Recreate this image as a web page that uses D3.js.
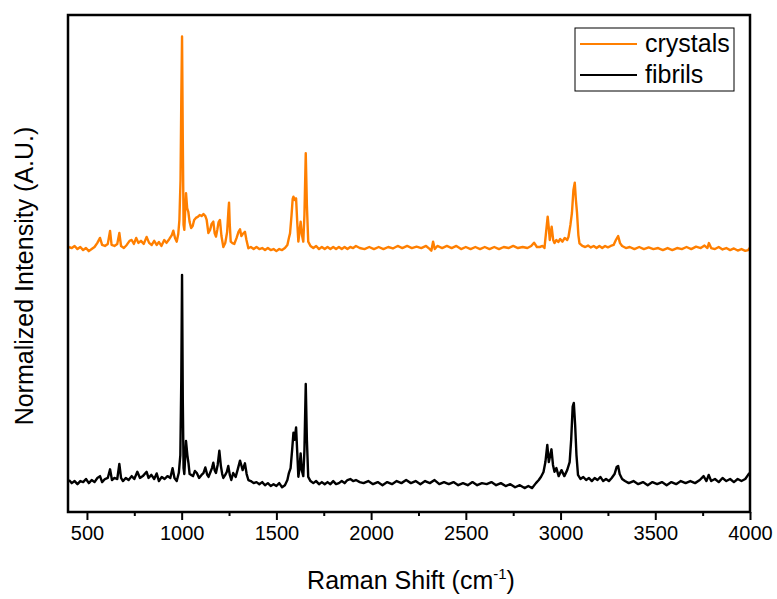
<!DOCTYPE html>
<html>
<head>
<meta charset="utf-8">
<script src="https://cdn.jsdelivr.net/npm/d3@7"></script>
<style>
  body { margin: 0; background: #fff; }
  svg text { font-family: "Liberation Sans", Arial, sans-serif; fill: #000; }
</style>
</head>
<body>
<div id="chart"></div>
<script>
// x positions (cm-1) and normalized intensities
const fibrilShift = [405,420,435,450,465,480,495,510,525,540,555,569,580,595,610,622,632,645,660,671,680,690,705,720,736,750,766,780,795,815,825,840,855,868,880,895,910,925,940,952,962,974,985,993,998,1002,1006,1010,1014,1023,1030,1036,1042,1050,1060,1070,1080,1092,1105,1115,1125,1135,1142,1152,1160,1167,1174,1181,1190,1199,1207,1214,1220,1230,1238,1246,1254,1262,1272,1285,1295,1308,1316,1322,1334,1343,1352,1365,1380,1395,1410,1425,1440,1455,1470,1485,1500,1515,1530,1545,1558,1566,1575,1583,1590,1596,1604,1610,1616,1622,1628,1634,1642,1648,1655,1661,1668,1680,1695,1710,1725,1740,1755,1770,1785,1800,1815,1830,1845,1860,1875,1890,1905,1920,1940,1960,1985,2010,2035,2060,2085,2110,2135,2160,2185,2210,2235,2260,2285,2310,2335,2360,2385,2410,2435,2460,2485,2510,2535,2560,2585,2610,2635,2660,2685,2710,2735,2760,2785,2810,2830,2850,2870,2885,2897,2910,2920,2930,2938,2946,2952,2960,2968,2978,2990,3005,3020,3035,3048,3056,3064,3070,3077,3084,3092,3105,3120,3135,3150,3165,3180,3195,3210,3225,3240,3255,3270,3285,3296,3304,3312,3325,3340,3360,3385,3410,3435,3460,3485,3510,3535,3560,3585,3610,3635,3660,3685,3710,3735,3755,3770,3782,3795,3815,3835,3855,3875,3895,3915,3935,3955,3975,3990,3998];
const fibrilIntensity = [0.005,-0.01,0,-0.015,0,-0.005,0.01,-0.01,0.005,-0.005,0.015,0.024,-0.005,0.01,0.015,0.057,0.005,0.015,0.01,0.083,0.015,0,0.015,0.005,0.024,0.01,0.045,0.015,0.024,0.045,0.015,0.03,0.01,0.037,0,0.02,0.01,0.024,0.015,0.062,0.015,0,0.04,0.126,0.49,1.0,0.39,0.063,0.034,0.194,0.126,0.087,0.034,0.03,0.024,0.049,0.039,0.015,0.03,0.039,0.066,0.03,0.02,0.044,0.063,0.089,0.053,0.039,0.078,0.147,0.073,0.034,0.015,0.03,0.044,0.073,0.03,0.005,0.039,0.02,0.053,0.099,0.073,0.053,0.086,0.034,0.005,0,-0.01,-0.005,-0.015,-0.005,-0.02,-0.01,-0.024,-0.015,-0.024,-0.01,-0.03,-0.02,0.005,0.039,0.063,0.15,0.234,0.2,0.26,0.141,0.021,0.063,0.134,0.053,0.024,0.15,0.471,0.2,0.02,0,-0.01,0,-0.015,-0.005,-0.015,-0.005,-0.015,0,-0.015,-0.01,0,-0.01,0.005,0.01,0,0.005,-0.005,-0.01,0,-0.015,-0.005,-0.02,-0.005,-0.015,0,-0.01,0.005,-0.01,0,-0.015,0,-0.01,0.005,-0.015,-0.005,-0.015,-0.005,-0.02,-0.01,-0.02,-0.005,-0.02,-0.01,-0.015,-0.005,-0.02,-0.01,-0.024,-0.015,-0.03,-0.02,-0.034,-0.024,-0.034,-0.01,0.005,0.021,0.044,0.092,0.175,0.092,0.126,0.154,0.078,0.045,0.063,0.024,0.053,0.024,0.053,0.092,0.2,0.361,0.379,0.272,0.126,0.03,0.01,0.02,0.005,0.015,0,0.015,0.005,0.02,0,0.01,0,0.015,0.034,0.068,0.073,0.034,0.01,0,-0.01,0,-0.015,-0.005,-0.02,-0.005,-0.015,-0.005,-0.02,-0.005,-0.015,0,-0.01,0,-0.01,0.005,0.024,0,0.03,0,0.01,-0.005,0.015,0,0.01,-0.005,0.01,0,0.01,0.03,0.039];

const crystalShift = [405,420,435,450,465,480,495,510,525,540,555,569,580,595,610,622,630,645,660,671,680,695,710,725,736,748,760,772,785,800,815,828,842,855,868,880,893,908,920,935,948,956,965,974,982,988,994,998,1002,1006,1010,1014,1018,1023,1029,1035,1042,1050,1058,1066,1075,1085,1095,1105,1115,1125,1132,1141,1150,1158,1167,1174,1181,1188,1195,1202,1210,1220,1230,1240,1247,1250,1254,1259,1268,1278,1290,1300,1308,1315,1322,1334,1342,1352,1365,1380,1395,1410,1425,1440,1455,1470,1485,1500,1515,1530,1545,1558,1566,1572,1580,1586,1590,1597,1604,1610,1616,1622,1628,1635,1642,1648,1655,1661,1668,1680,1695,1710,1725,1740,1755,1770,1785,1800,1815,1830,1845,1860,1875,1890,1905,1920,1940,1965,1990,2015,2040,2065,2090,2115,2140,2165,2190,2215,2240,2265,2290,2310,2318,2327,2336,2350,2375,2400,2425,2450,2475,2500,2525,2550,2575,2600,2625,2650,2675,2700,2725,2750,2775,2800,2825,2845,2860,2875,2890,2905,2915,2922,2932,2938,2943,2953,2961,2968,2978,2988,2998,3010,3022,3035,3042,3052,3060,3068,3075,3081,3087,3094,3100,3115,3130,3145,3160,3175,3190,3205,3220,3235,3250,3265,3280,3292,3304,3314,3325,3345,3365,3390,3415,3440,3465,3490,3515,3540,3565,3590,3615,3640,3665,3690,3715,3740,3760,3775,3783,3795,3815,3835,3855,3875,3895,3915,3935,3955,3975,3990,3998];
const crystalIntensity = [0,-0.005,0.005,-0.01,0,-0.015,-0.005,-0.02,-0.01,0,0.02,0.044,0.01,0.005,0.015,0.078,0.01,0.005,0.015,0.068,0.005,-0.005,0.01,0.03,0.034,0.015,0.044,0.02,0.03,0.015,0.049,0.02,0.01,0.03,0.01,0.024,0.005,0.034,0.02,0.039,0.058,0.079,0.044,0.026,0.063,0.131,0.325,0.714,1.021,0.519,0.107,0.083,0.165,0.261,0.189,0.171,0.121,0.092,0.102,0.131,0.141,0.146,0.155,0.15,0.16,0.15,0.131,0.068,0.083,0.112,0.123,0.068,0.05,0.083,0.121,0.131,0.053,0,0.019,0.073,0.18,0.215,0.107,0.026,0.019,0.015,0.044,0.073,0.086,0.053,0.063,0.074,0.034,-0.006,0,-0.01,0,-0.01,-0.005,-0.015,-0.005,-0.015,-0.01,-0.02,-0.01,-0.015,-0.005,0.01,0.044,0.066,0.155,0.233,0.244,0.228,0.236,0.121,0.026,0.073,0.123,0.058,0.026,0.155,0.455,0.204,0.026,0.005,-0.005,0.005,-0.01,0,-0.01,0,-0.01,0,-0.01,0,-0.01,0,-0.01,0,-0.005,0.005,-0.005,-0.01,0,-0.01,0,-0.01,0,-0.007,0.005,-0.005,0.005,-0.005,0.002,-0.005,0.005,-0.01,-0.018,0.026,-0.01,0.005,-0.005,0.005,-0.005,0.005,-0.01,0,-0.01,0,-0.01,0,-0.01,0,-0.01,0,-0.005,0.005,-0.005,0,-0.005,0.005,0.021,0,0,0.005,-0.005,0.058,0.147,0.092,0.034,0.099,0.034,0.019,0.034,0.024,0.039,0.026,0.044,0.034,0.05,0.107,0.165,0.277,0.312,0.228,0.165,0.058,0.018,0.005,0,0.007,-0.002,0.005,-0.005,0.005,-0.005,0.005,-0.002,0.005,0.01,0.034,0.053,0.019,0.005,-0.005,0,-0.01,0,-0.01,-0.002,-0.01,-0.005,-0.015,-0.005,-0.015,-0.005,-0.01,0,-0.01,0.002,-0.005,0.007,-0.005,0.019,-0.005,-0.01,0,-0.012,-0.005,-0.015,-0.007,-0.017,-0.01,-0.019,-0.015,-0.005];

const crystalOffset = 1.135;
const xTicks = [500,1000,1500,2000,2500,3000,3500,4000];
const xMinorTicks = [750,1250,1750,2250,2750,3250,3750];
const seriesNames = ["crystals", "fibrils"];
const seriesColors = ["#ff7f00", "#000000"];

const width = 777, height = 599;
const margin = { top: 15, right: 27, bottom: 87, left: 68 };
const plotW = width - margin.left - margin.right;
const plotH = height - margin.top - margin.bottom;

const svg = d3.select("#chart").append("svg")
  .attr("width", width)
  .attr("height", height);

const x = d3.scaleLinear().domain([400, 4000]).range([margin.left, margin.left + plotW]);
const y = d3.scaleLinear().domain([-0.15, 2.26]).range([margin.top + plotH, margin.top]);

const plot = svg.append("g");

svg.append("clipPath").attr("id", "clip")
  .append("rect")
  .attr("x", margin.left).attr("y", margin.top)
  .attr("width", plotW).attr("height", plotH);

const line = d3.line()
  .x(d => x(d[0]))
  .y(d => y(d[1]));

const fibrils = fibrilShift.map((s, i) => [s, fibrilIntensity[i]]);
const crystals = crystalShift.map((s, i) => [s, crystalIntensity[i] + crystalOffset]);

// draw fibrils first, crystals on top
plot.append("path")
  .datum(fibrils)
  .attr("clip-path", "url(#clip)")
  .attr("fill", "none")
  .attr("stroke", seriesColors[1])
  .attr("stroke-width", 2.4)
  .attr("stroke-linejoin", "round")
  .attr("d", line);

plot.append("path")
  .datum(crystals)
  .attr("clip-path", "url(#clip)")
  .attr("fill", "none")
  .attr("stroke", seriesColors[0])
  .attr("stroke-width", 2.4)
  .attr("stroke-linejoin", "round")
  .attr("d", line);

// bottom axis with major + minor ticks
const xAxis = svg.append("g")
  .attr("transform", `translate(0, ${margin.top + plotH})`)
  .call(d3.axisBottom(x).tickValues(xTicks).tickSize(8).tickPadding(6).tickFormat(d3.format("d")));
xAxis.select(".domain").remove();
xAxis.selectAll(".tick line").attr("stroke", "#000").attr("stroke-width", 2);
xAxis.selectAll(".tick text")
  .attr("font-size", 20)
  .style("font-family", "'Liberation Sans', Arial, sans-serif");

svg.append("g")
  .attr("transform", `translate(0, ${margin.top + plotH})`)
  .call(d3.axisBottom(x).tickValues(xMinorTicks).tickSize(4).tickFormat(""))
  .call(g => g.select(".domain").remove())
  .selectAll(".tick line").attr("stroke", "#000").attr("stroke-width", 2);

// frame
svg.append("rect")
  .attr("x", margin.left).attr("y", margin.top)
  .attr("width", plotW).attr("height", plotH)
  .attr("fill", "none")
  .attr("stroke", "#000")
  .attr("stroke-width", 2.5);

// axis titles
const xTitle = svg.append("text")
  .attr("x", margin.left + plotW / 2 + 2)
  .attr("y", 589)
  .attr("text-anchor", "middle")
  .attr("font-size", 25);
xTitle.append("tspan").text("Raman Shift (cm");
xTitle.append("tspan").attr("font-size", 15).attr("dy", -10).text("-1");
xTitle.append("tspan").attr("dy", 10).text(")");

svg.append("text")
  .attr("transform", "translate(33, 276) rotate(-90)")
  .attr("text-anchor", "middle")
  .attr("font-size", 25)
  .text("Normalized Intensity (A.U.)");

// legend
const legend = svg.append("g");
legend.append("rect")
  .attr("x", 575).attr("y", 28)
  .attr("width", 159).attr("height", 63)
  .attr("fill", "#fff")
  .attr("stroke", "#000")
  .attr("stroke-width", 1);

seriesNames.forEach((name, i) => {
  const yy = 44 + i * 31;
  legend.append("line")
    .attr("x1", 580).attr("x2", 637)
    .attr("y1", yy).attr("y2", yy)
    .attr("stroke", seriesColors[i])
    .attr("stroke-width", 2);
  legend.append("text")
    .attr("x", 645).attr("y", yy + 8)
    .attr("font-size", 25)
    .text(name);
});
</script>
</body>
</html>
